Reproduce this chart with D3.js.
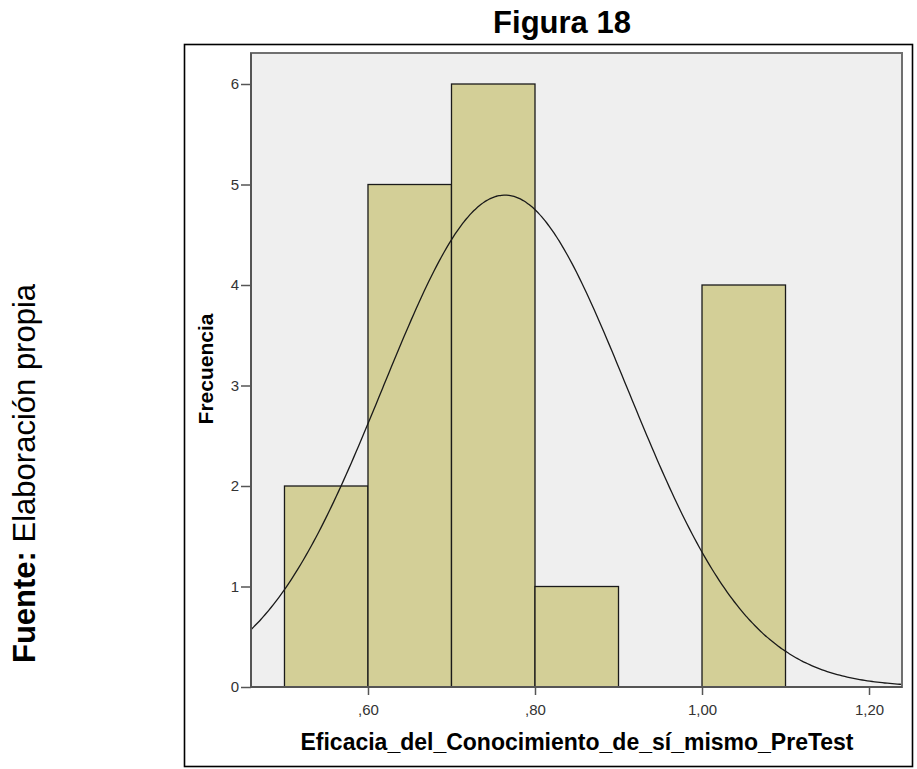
<!DOCTYPE html>
<meta charset="utf-8">
<style>
body { margin: 0; background: #fff; }
svg { display: block; font-family: "Liberation Sans", Arial, sans-serif; }
.bar { fill: #d3cf97; stroke: #1a1a1a; stroke-width: 1.3; }
.curve { fill: none; stroke: #1a1a1a; stroke-width: 1.3; }
</style>
<svg width="917" height="769"></svg>
<script src="https://d3js.org/d3.v7.min.js"></script>
<script>

// histogram bins (lower edge) and counts
var binStarts = [0.5, 0.6, 0.7, 0.8, 0.9, 1.0];
var binWidth = 0.1;
var counts = [2, 5, 6, 1, 0, 4];

// fitted normal curve
var curveMean = 0.764,
    curveSD = 0.1467,
    curveN = 18;

var xTicks = [0.6, 0.8, 1.0, 1.2];
var xTickLabels = [",60", ",80", "1,00", "1,20"];
var yTicks = [0, 1, 2, 3, 4, 5, 6];

var svg = d3.select("svg"),
    plot = {left: 251, right: 902, top: 53, bottom: 687};

var x = d3.scaleLinear().domain([0.4599, 1.2395]).range([plot.left, plot.right]),
    y = d3.scaleLinear().domain([0, 6]).range([plot.bottom, 84]);

// outer frame
svg.append("rect")
    .attr("x", 184.5).attr("y", 44.5)
    .attr("width", 728).attr("height", 722)
    .attr("fill", "none").attr("stroke", "#000").attr("stroke-width", 1.6);

// title
svg.append("text")
    .attr("x", 562).attr("y", 33)
    .attr("text-anchor", "middle")
    .style("font-size", "31px").style("font-weight", "bold")
    .text("Figura 18");

// plot background
svg.append("rect")
    .attr("x", plot.left).attr("y", plot.top)
    .attr("width", plot.right - plot.left).attr("height", plot.bottom - plot.top)
    .attr("fill", "#efefef");

var bins = binStarts.map(function(b, i) { return {x0: b, x1: b + binWidth, count: counts[i]}; })
    .filter(function(d) { return d.count > 0; });

svg.selectAll(".bar")
  .data(bins)
  .enter().append("rect")
    .attr("class", "bar")
    .attr("x", function(d) { return x(d.x0); })
    .attr("y", function(d) { return y(d.count); })
    .attr("width", function(d) { return x(d.x1) - x(d.x0); })
    .attr("height", function(d) { return y(0) - y(d.count); });

// normal curve scaled to counts
var xs = d3.range(x.domain()[0], x.domain()[1], 0.003).concat([x.domain()[1]]);
var curve = xs.map(function(v) {
  var z = (v - curveMean) / curveSD;
  return [v, curveN * binWidth / (curveSD * Math.sqrt(2 * Math.PI)) * Math.exp(-0.5 * z * z)];
});

svg.append("path")
    .datum(curve)
    .attr("class", "curve")
    .attr("d", d3.line()
        .x(function(d) { return x(d[0]); })
        .y(function(d) { return y(d[1]); })
        .curve(d3.curveBasis));

// plot border
svg.append("rect")
    .attr("x", plot.left).attr("y", plot.top)
    .attr("width", plot.right - plot.left).attr("height", plot.bottom - plot.top)
    .attr("fill", "none").attr("stroke", "#707070").attr("stroke-width", 2);

// axes
var yAxis = svg.append("g")
    .attr("transform", "translate(" + plot.left + ",0)")
    .call(d3.axisLeft(y).tickValues(yTicks).tickSize(10).tickSizeOuter(0).tickPadding(2).tickFormat(d3.format("d")));

var xAxis = svg.append("g")
    .attr("transform", "translate(0," + plot.bottom + ")")
    .call(d3.axisBottom(x).tickValues(xTicks).tickSize(8).tickSizeOuter(0).tickPadding(9)
        .tickFormat(function(d, i) { return xTickLabels[i]; }));

[yAxis, xAxis].forEach(function(g) {
  g.select(".domain").remove();
  g.selectAll("text")
      .style("font-size", "15px")
      .style("font-family", "'Liberation Sans', Arial, sans-serif")
      .attr("fill", "#333");
  g.selectAll("line").attr("stroke", "#555").attr("stroke-width", 1.5);
});

svg.append("line")
    .attr("x1", plot.left).attr("x2", plot.right)
    .attr("y1", plot.bottom).attr("y2", plot.bottom)
    .attr("stroke", "#555").attr("stroke-width", 2);
svg.append("line")
    .attr("x1", plot.left).attr("x2", plot.left)
    .attr("y1", plot.top).attr("y2", plot.bottom)
    .attr("stroke", "#555").attr("stroke-width", 2);

// axis titles
svg.append("text")
    .attr("x", 577).attr("y", 750)
    .attr("text-anchor", "middle")
    .style("font-size", "23px").style("font-weight", "bold")
    .text("Eficacia_del_Conocimiento_de_sí_mismo_PreTest");

svg.append("text")
    .attr("transform", "translate(213,369) rotate(-90)")
    .attr("text-anchor", "middle")
    .style("font-size", "21px").style("font-weight", "bold")
    .text("Frecuencia");

// source note
var note = svg.append("text")
    .attr("transform", "translate(35,663) rotate(-90)")
    .style("font-size", "31px");
note.append("tspan").style("font-weight", "bold").text("Fuente:");
note.append("tspan").text(" Elaboración propia");

</script>
